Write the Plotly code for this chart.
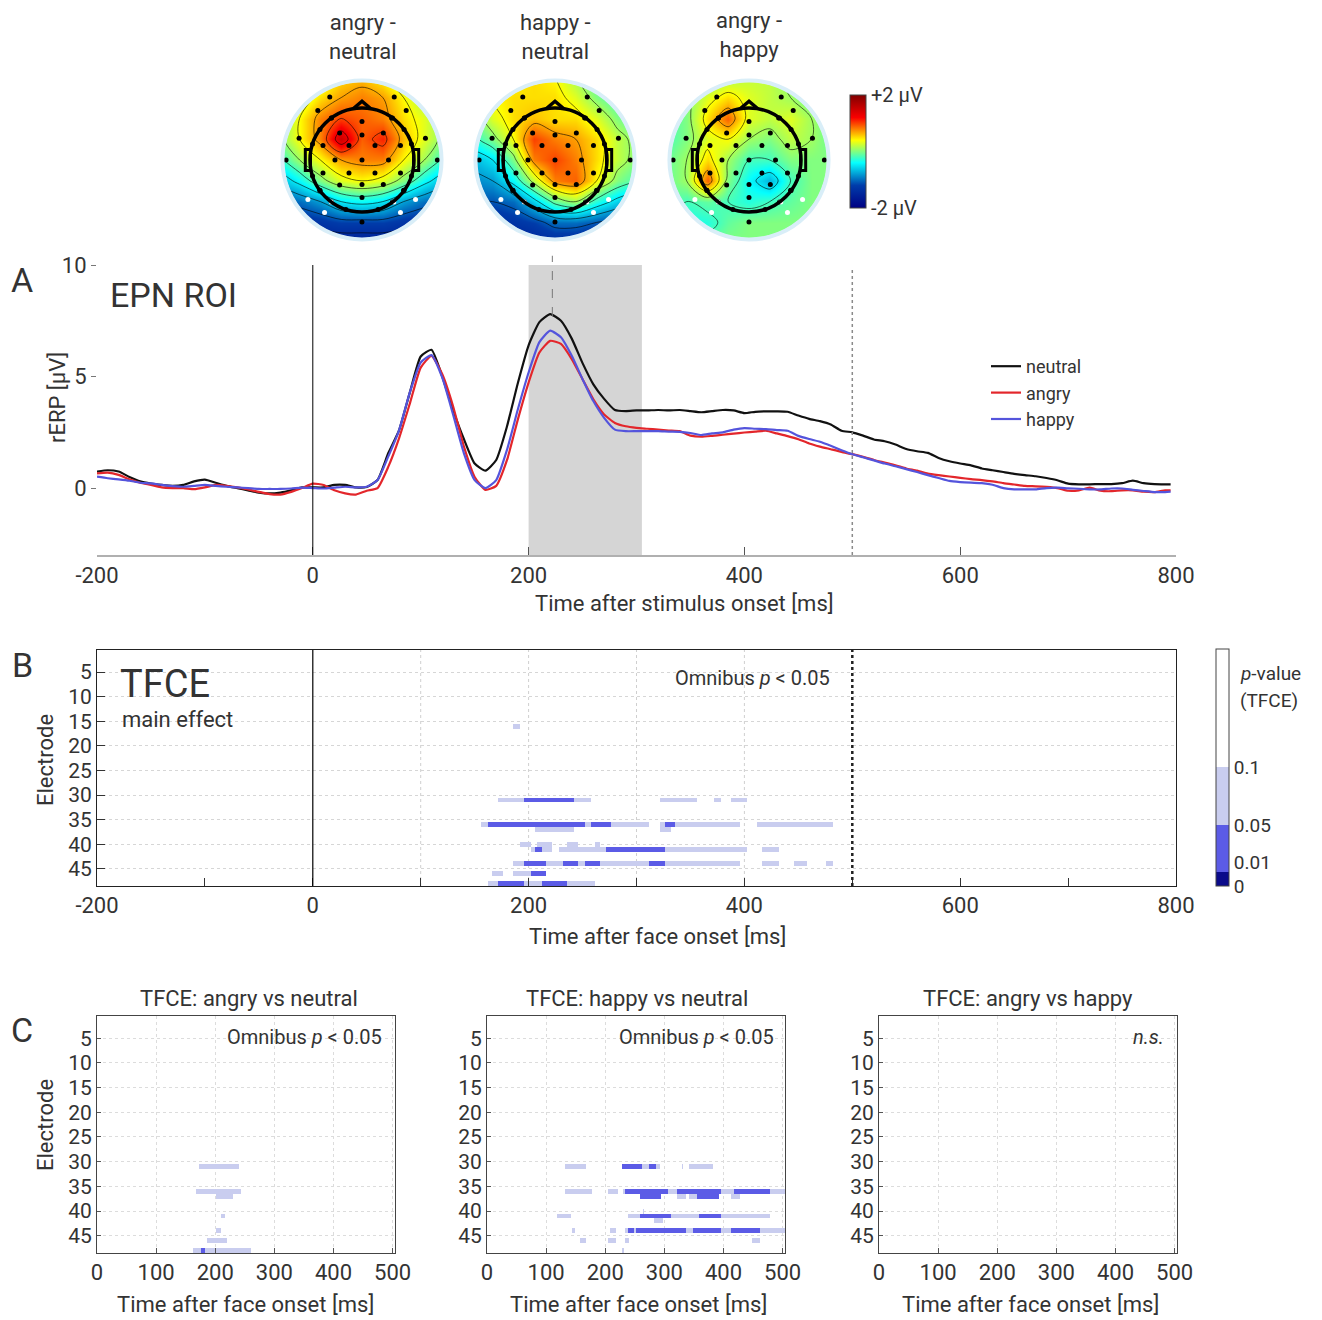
import numpy as np
import plotly.graph_objects as go

W, H = 1322, 1320
def px(x): return x / W
def py(y): return 1 - y / H

FONT = "Roboto"
TXT = "#333333"

# ---------------- Panel A: ERP time courses ----------------
time_ms = list(range(-200, 800, 10)) + [795]
neutral = [0.74, 0.80, 0.74, 0.50, 0.30, 0.20, 0.14, 0.10, 0.14, 0.30,
           0.38, 0.24, 0.10, 0.00, -0.10, -0.20, -0.24, -0.20, -0.10, 0.03,
           0.03, 0.03, 0.14, 0.14, 0.03, 0.05, 0.36, 1.57, 2.60, 4.30,
           5.90, 6.20, 5.00, 3.50, 2.20, 1.10, 0.78, 1.26, 2.77, 4.70,
           6.40, 7.44, 7.80, 7.50, 6.70, 5.60, 4.65, 4.00, 3.50, 3.45,
           3.48, 3.48, 3.50, 3.48, 3.50, 3.45, 3.40, 3.45, 3.50, 3.48,
           3.36, 3.42, 3.44, 3.44, 3.42, 3.25, 3.10, 3.00, 2.85, 2.57,
           2.50, 2.35, 2.18, 2.10, 1.95, 1.75, 1.65, 1.58, 1.35, 1.20,
           1.10, 1.02, 0.88, 0.80, 0.72, 0.64, 0.58, 0.53, 0.45, 0.35,
           0.20, 0.17, 0.17, 0.18, 0.18, 0.22, 0.33, 0.22, 0.18, 0.17, 0.17]
angry = [0.66, 0.69, 0.59, 0.39, 0.24, 0.14, 0.03, 0.00, 0.00, -0.05,
         0.03, 0.14, 0.10, 0.03, -0.06, -0.17, -0.27, -0.29, -0.17, 0.00,
         0.20, 0.14, -0.10, -0.24, -0.29, -0.12, 0.00, 0.96, 2.24, 3.80,
         5.40, 5.93, 5.10, 3.67, 1.87, 0.50, -0.08, 0.10, 1.26, 3.07,
         4.73, 6.08, 6.60, 6.46, 5.78, 4.88, 3.98, 3.30, 2.92, 2.77,
         2.70, 2.66, 2.62, 2.58, 2.55, 2.35, 2.30, 2.34, 2.39, 2.44,
         2.49, 2.53, 2.57, 2.45, 2.33, 2.19, 2.00, 1.86, 1.74, 1.62,
         1.52, 1.40, 1.26, 1.14, 1.02, 0.88, 0.78, 0.65, 0.58, 0.52,
         0.46, 0.40, 0.36, 0.30, 0.22, 0.16, 0.10, 0.08, 0.05, 0.00,
         -0.12, -0.10, 0.02, -0.12, -0.14, -0.10, -0.10, -0.16, -0.18, -0.10, -0.10]
happy = [0.51, 0.44, 0.39, 0.33, 0.24, 0.21, 0.14, 0.09, 0.06, 0.10,
         0.14, 0.10, 0.06, 0.03, 0.00, -0.04, -0.04, -0.04, -0.02, 0.02,
         0.00, -0.02, 0.02, 0.06, 0.03, 0.06, 0.36, 1.42, 2.60, 4.30,
         5.63, 5.96, 4.95, 3.30, 1.57, 0.36, 0.00, 0.36, 1.72, 3.52,
         5.18, 6.54, 7.06, 6.76, 5.93, 4.88, 3.90, 3.15, 2.62, 2.55,
         2.55, 2.55, 2.55, 2.53, 2.52, 2.47, 2.38, 2.45, 2.50, 2.62,
         2.69, 2.66, 2.64, 2.60, 2.57, 2.34, 2.20, 2.08, 1.90, 1.70,
         1.52, 1.38, 1.24, 1.10, 0.98, 0.85, 0.72, 0.58, 0.45, 0.32,
         0.27, 0.24, 0.22, 0.15, 0.00, -0.06, -0.06, -0.06, 0.00, 0.02,
         -0.01, -0.03, -0.06, -0.06, -0.02, -0.02, -0.08, -0.13, -0.18, -0.18, -0.16]
condition_names = ["neutral", "angry", "happy"]
condition_colors = ["#111111", "#e3262b", "#5454dc"]
epn_window = [200, 305]
peak_latency = 222
analysis_end = 500
erp_ticks = [-200, 0, 200, 400, 600, 800]

# ---------------- Panel B / C: TFCE clusters ----------------
# (electrode, start ms, end ms, level)  level: 'l' p<0.1, 'm' p<0.05, 'd' p<0.01
main_effect = [
    (16, 186, 192, 'l'),
    (31, 172, 197, 'l'), (31, 197, 242, 'm'), (31, 242, 258, 'l'), (31, 323, 357, 'l'),
    (31, 373, 378, 'l'), (31, 388, 403, 'l'),
    (36, 157, 162, 'l'), (36, 162, 252, 'm'), (36, 252, 258, 'l'), (36, 258, 277, 'm'),
    (36, 277, 312, 'l'), (36, 323, 327, 'l'), (36, 327, 337, 'm'), (36, 337, 397, 'l'),
    (36, 412, 482, 'l'),
    (37, 207, 242, 'l'), (37, 323, 332, 'l'),
    (40, 192, 202, 'l'), (40, 208, 223, 'l'), (40, 237, 247, 'l'), (40, 262, 267, 'l'),
    (41, 202, 207, 'l'), (41, 207, 212, 'm'), (41, 212, 223, 'l'), (41, 228, 272, 'l'),
    (41, 272, 327, 'm'), (41, 327, 402, 'l'), (41, 417, 433, 'l'),
    (44, 187, 197, 'l'), (44, 197, 217, 'm'), (44, 217, 232, 'l'), (44, 232, 247, 'm'),
    (44, 247, 252, 'l'), (44, 252, 267, 'm'), (44, 267, 312, 'l'), (44, 312, 327, 'm'),
    (44, 327, 397, 'l'), (44, 417, 433, 'l'), (44, 447, 458, 'l'), (44, 477, 482, 'l'),
    (46, 167, 177, 'l'), (46, 187, 202, 'l'), (46, 202, 217, 'm'),
    (48, 162, 173, 'l'), (48, 173, 197, 'm'), (48, 197, 212, 'l'), (48, 212, 237, 'm'),
    (48, 237, 262, 'l'),
]
angry_vs_neutral = [
    (31, 172, 241, 'l'), (36, 168, 245, 'l'), (37, 203, 231, 'l'), (41, 211, 217, 'l'),
    (44, 203, 211, 'l'), (46, 187, 221, 'l'), (48, 162, 261, 'l'), (48, 177, 182, 'm'),
]
happy_vs_neutral = [
    (31, 133, 168, 'l'), (31, 228, 262, 'm'), (31, 262, 274, 'l'), (31, 274, 287, 'm'),
    (31, 287, 293, 'l'), (31, 330, 332, 'l'), (31, 342, 383, 'l'),
    (36, 133, 178, 'l'), (36, 204, 222, 'l'), (36, 231, 234, 'l'), (36, 234, 307, 'm'),
    (36, 307, 323, 'l'), (36, 323, 397, 'm'), (36, 397, 418, 'l'), (36, 418, 478, 'm'),
    (36, 478, 504, 'l'),
    (37, 258, 295, 'm'), (37, 323, 337, 'l'), (37, 342, 357, 'l'), (37, 357, 393, 'm'),
    (37, 413, 428, 'l'),
    (40, 264, 266, 'l'),
    (41, 119, 142, 'l'), (41, 238, 258, 'l'), (41, 258, 313, 'm'), (41, 313, 358, 'l'),
    (41, 358, 397, 'm'), (41, 397, 478, 'l'),
    (42, 282, 298, 'l'),
    (44, 145, 148, 'l'), (44, 208, 218, 'l'), (44, 234, 238, 'l'), (44, 238, 248, 'm'),
    (44, 248, 252, 'l'), (44, 252, 337, 'm'), (44, 337, 348, 'l'), (44, 348, 397, 'm'),
    (44, 397, 413, 'l'), (44, 413, 462, 'm'), (44, 462, 504, 'l'),
    (46, 158, 168, 'l'), (46, 204, 218, 'l'), (46, 234, 241, 'l'), (46, 449, 462, 'l'),
    (48, 229, 232, 'l'),
]
angry_vs_happy = []
n_electrodes = 48
electrode_ticks = [5, 10, 15, 20, 25, 30, 35, 40, 45]
p_ticks = ["0", "0.01", "0.05", "0.1"]

# ---------------- Topographies ----------------
topo_grid = [-1.6, -1.2, -0.8, -0.4, 0.0, 0.4, 0.8, 1.2, 1.6]
# rows listed from front (top) to back (bottom)
topo_angry_neutral = [
    [-0.3, -0.1, 0.2, 0.5, 0.6, 0.4, 0.1, -0.2, -0.4],
    [-0.2, 0.2, 0.5, 0.7, 0.8, 0.7, 0.4, 0.1, -0.3],
    [0.0, 0.4, 0.8, 1.0, 0.9, 0.8, 0.5, 0.3, 0.0],
    [0.0, 0.4, 0.8, 1.5, 0.9, 1.1, 0.6, 0.3, 0.0],
    [-0.3, 0.1, 0.4, 0.7, 0.8, 0.8, 0.4, 0.1, -0.3],
    [-0.7, -0.4, 0.0, 0.3, 0.4, 0.3, 0.0, -0.4, -0.7],
    [-1.1, -1.0, -0.8, -0.5, -0.4, -0.5, -0.8, -1.0, -1.1],
    [-1.4, -1.35, -1.3, -1.2, -1.2, -1.2, -1.3, -1.35, -1.4],
    [-1.6, -1.6, -1.6, -1.6, -1.6, -1.6, -1.6, -1.6, -1.6],
]
topo_happy_neutral = [
    [0.0, 0.2, 0.4, 0.5, 0.4, 0.1, -0.2, -0.4, -0.5],
    [0.1, 0.4, 0.5, 0.5, 0.5, 0.3, 0.0, -0.2, -0.4],
    [-0.1, 0.3, 0.5, 0.6, 0.5, 0.5, 0.3, 0.0, -0.2],
    [-0.3, 0.0, 0.4, 1.0, 0.8, 0.7, 0.5, 0.2, 0.0],
    [-0.7, -0.5, 0.0, 0.8, 1.0, 0.8, 0.5, 0.2, 0.0],
    [-0.9, -0.8, -0.4, 0.2, 0.8, 0.9, 0.4, 0.0, -0.2],
    [-1.1, -1.1, -1.0, -0.6, -0.1, 0.1, -0.3, -0.6, -0.8],
    [-1.4, -1.4, -1.3, -1.2, -1.0, -1.0, -1.1, -1.2, -1.3],
    [-1.6, -1.6, -1.6, -1.5, -1.4, -1.4, -1.5, -1.6, -1.6],
]
topo_angry_happy = [
    [-0.2, -0.1, 0.0, 0.1, 0.2, 0.2, 0.0, -0.1, -0.2],
    [-0.2, 0.0, 0.3, 0.5, 0.3, 0.2, 0.1, -0.1, -0.2],
    [-0.2, 0.0, 0.5, 0.9, 0.3, 0.2, 0.3, 0.1, -0.1],
    [-0.2, 0.0, 0.3, 0.4, 0.1, 0.0, 0.2, 0.1, -0.1],
    [-0.1, 0.1, 0.5, 0.1, -0.2, -0.2, 0.0, 0.0, 0.0],
    [-0.1, 0.1, 0.9, 0.0, -0.4, -0.7, -0.2, 0.0, 0.0],
    [-0.1, -0.2, -0.1, -0.2, -0.3, -0.2, -0.1, 0.0, 0.0],
    [-0.1, -0.35, -0.3, -0.1, 0.0, 0.0, 0.0, 0.0, 0.0],
    [-0.1, -0.1, -0.1, 0.0, 0.0, 0.0, 0.0, 0.0, 0.0],
]
topo_titles = ["angry -<br>neutral", "happy -<br>neutral", "angry -<br>happy"]
elec_x = [-0.62, 0.62, -0.85, 0.85, 0.0, -0.59, 0.57, -0.43, 0.0, 0.41, -1.21, 1.22,
          -0.75, -0.25, 0.25, 0.74, -1.46, 1.45, -0.52, 0.0, 0.51, -0.75, -0.25, 0.25,
          0.74, -0.43, 0.0, 0.41, -0.81, 0.80, 0.0, 0.0]
elec_y = [1.21, 1.21, 0.95, 0.95, 0.74, 0.81, 0.81, 0.52, 0.48, 0.52, 0.42, 0.42,
          0.28, 0.28, 0.28, 0.28, 0.0, 0.0, 0.0, 0.0, 0.0, -0.25, -0.25, -0.25,
          -0.25, -0.48, -0.47, -0.47, -0.58, -0.58, -0.72, -1.19]
roi_x = [-1.04, -0.59, 0.61, 1.03, -0.72, 0.74]
roi_y = [-0.76, -0.81, -0.81, -0.76, -1.01, -1.01]
rim_angles = [18, 36, 54, 126, 144, 162, 198, 216, 234, 252, 288, 306, 324, 342]

# ======================================================================
fig = go.Figure()

for name, col, vals in zip(condition_names, condition_colors, [neutral, angry, happy]):
    fig.add_trace(go.Scatter(x=time_ms, y=vals, mode="lines", name=name,
                             line=dict(color=col, width=2.2, shape="spline", smoothing=0.5),
                             xaxis="x", yaxis="y", hoverinfo="skip"))

LEVEL_Z = {'d': 7, 'm': 37, 'l': 90}
def build_z(segments, t_centers):
    z = np.full((n_electrodes, len(t_centers)), np.nan)
    for el, t0, t1, lev in segments:
        sel = (t_centers >= t0) & (t_centers < t1)
        z[el - 1, sel] = LEVEL_Z[lev]
    return z

rows = np.arange(1, n_electrodes + 1)
tB = np.arange(-199, 800, 2)
tC = np.arange(1, 504, 2)
fig.add_trace(go.Heatmap(x=tB, y=rows, z=build_z(main_effect, tB), coloraxis="coloraxis",
                         xaxis="x2", yaxis="y2", hoverinfo="skip", showlegend=False))
for i, segs in enumerate([angry_vs_neutral, happy_vs_neutral, angry_vs_happy]):
    fig.add_trace(go.Heatmap(x=tC, y=rows, z=build_z(segs, tC), coloraxis="coloraxis",
                             xaxis=f"x{3+i}", yaxis=f"y{3+i}", hoverinfo="skip", showlegend=False))

rim_x = [float(np.cos(np.radians(a))) for a in rim_angles]
rim_y = [float(np.sin(np.radians(a))) for a in rim_angles]
for i, zt in enumerate([topo_angry_neutral, topo_happy_neutral, topo_angry_happy]):
    xa, ya = f"x{6+i}", f"y{6+i}"
    fig.add_trace(go.Contour(x=topo_grid, y=topo_grid, z=zt[::-1], coloraxis="coloraxis2",
                             contours=dict(coloring="heatmap", start=-2, end=2, size=0.3, showlines=True),
                             line=dict(color="black", width=0.6), xaxis=xa, yaxis=ya,
                             hoverinfo="skip", showlegend=False))
    fig.add_trace(go.Scatter(x=elec_x + rim_x, y=elec_y + rim_y, mode="markers",
                             marker=dict(color="black", size=5), xaxis=xa, yaxis=ya,
                             showlegend=False, hoverinfo="skip"))
    fig.add_trace(go.Scatter(x=roi_x, y=roi_y, mode="markers",
                             marker=dict(color="white", size=5), xaxis=xa, yaxis=ya,
                             showlegend=False, hoverinfo="skip"))

# ---------------- Layout ----------------
tickf = dict(family=FONT, size=22, color=TXT)
layout = dict(
    width=W, height=H, margin=dict(l=0, r=0, t=0, b=0, autoexpand=False),
    paper_bgcolor="white", plot_bgcolor="white",
    font=dict(family=FONT, color=TXT, size=20),
    showlegend=True,
    legend=dict(x=px(986), y=py(348), xanchor="left", yanchor="top", bgcolor="rgba(0,0,0,0)",
                font=dict(family=FONT, size=18, color=TXT), tracegroupgap=0,
                borderwidth=0),
    xaxis=dict(domain=[px(97), px(1176)], range=[-200, 800], anchor="y", automargin=False,
               tickvals=erp_ticks, ticktext=[str(v) for v in erp_ticks],
               ticks="inside", ticklen=8, tickcolor="#555",
               showline=True, linecolor="#b0b0b0", linewidth=1.5, showgrid=False, zeroline=False,
               tickfont=tickf),
    yaxis=dict(domain=[py(555), py(265)], range=[-3, 10], anchor="x", automargin=False,
               tickvals=[0, 5, 10], ticks="outside", ticklen=5, tickcolor="#777",
               showline=False, showgrid=False, zeroline=False, tickfont=tickf),
    xaxis2=dict(domain=[px(97), px(1176)], range=[-200, 800], anchor="y2", automargin=False,
                tickvals=list(range(-200, 801, 100)),
                ticktext=[str(v) if v % 200 == 0 else "" for v in range(-200, 801, 100)],
                ticks="inside", ticklen=8, tickcolor="#333", showline=True, mirror=True,
                linecolor="#222", linewidth=1, showgrid=False, zeroline=False, tickfont=tickf),
    yaxis2=dict(domain=[py(886), py(650)], range=[48.5, 0.5], anchor="x2", automargin=False,
                tickvals=electrode_ticks, ticks="inside", ticklen=8, tickcolor="#333",
                showline=True, mirror=True, linecolor="#222", linewidth=1,
                showgrid=True, gridcolor="#d6d6d6", griddash="dot", gridwidth=1, zeroline=False,
                tickfont=dict(family=FONT, size=21, color=TXT)),
    coloraxis=dict(cmin=0, cmax=237,
                   colorscale=[[0, "#0b0b8a"], [14/237, "#0b0b8a"], [14/237, "#5b5be6"],
                               [61/237, "#5b5be6"], [61/237, "#c9cdef"], [119/237, "#c9cdef"],
                               [119/237, "#ffffff"], [1, "#ffffff"]],
                   colorbar=dict(x=px(1216), xanchor="left", y=py(649), yanchor="top",
                                 len=237/H, lenmode="fraction", thickness=13, xpad=0, ypad=0,
                                 outlinewidth=1, outlinecolor="#444",
                                 tickvals=[0, 24, 61, 119], ticktext=p_ticks, ticks="",
                                 tickfont=dict(family=FONT, size=19, color=TXT))),
    coloraxis2=dict(cmin=-2, cmax=2, colorscale="Jet",
                    colorbar=dict(x=px(850), xanchor="left", y=py(95), yanchor="top",
                                  len=113/H, lenmode="fraction", thickness=16, xpad=0, ypad=0,
                                  outlinewidth=1, outlinecolor="#444",
                                  tickvals=[2, -2], ticktext=["+2 µV", "-2 µV"], ticks="",
                                  tickfont=dict(family=FONT, size=20, color=TXT))),
)
c_left = [97, 487, 879]
c_ticks = [0, 100, 200, 300, 400, 500]
for i in range(3):
    layout[f"xaxis{3+i}"] = dict(domain=[px(c_left[i]), px(c_left[i] + 298)], range=[0, 504],
                                 anchor=f"y{3+i}", automargin=False, tickvals=c_ticks,
                                 ticktext=[str(v) for v in c_ticks],
                                 ticks="inside", ticklen=5, tickcolor="#555", showline=True, mirror=True,
                                 linecolor="#444", linewidth=1, showgrid=True, gridcolor="#dcdcdc",
                                 griddash="dot", zeroline=False, tickfont=tickf)
    layout[f"yaxis{3+i}"] = dict(domain=[py(1253), py(1016)], range=[48.5, 0.5], anchor=f"x{3+i}",
                                 automargin=False,
                                 tickvals=electrode_ticks, ticks="inside", ticklen=4, tickcolor="#555",
                                 showline=True, mirror=True, linecolor="#444", linewidth=1,
                                 showgrid=True, gridcolor="#dcdcdc", griddash="dot", zeroline=False,
                                 tickfont=dict(family=FONT, size=21, color=TXT))
topo_cx = [362, 555, 749]
R = 1.85
half = R * 52
for i in range(3):
    layout[f"xaxis{6+i}"] = dict(domain=[px(topo_cx[i] - half), px(topo_cx[i] + half)],
                                 range=[-R, R], visible=False, anchor=f"y{6+i}", automargin=False)
    layout[f"yaxis{6+i}"] = dict(domain=[py(160 + half), py(160 - half)],
                                 range=[-R, R], visible=False, anchor=f"x{6+i}", automargin=False)
fig.update_layout(**layout)

# ---------------- Shapes ----------------
shapes = []
shapes.append(dict(type="rect", xref="x", yref="y domain", x0=epn_window[0], x1=epn_window[1],
                   y0=0, y1=1, fillcolor="#d5d5d5", line=dict(width=0), layer="below"))
shapes.append(dict(type="line", xref="x", yref="y domain", x0=0, x1=0, y0=0, y1=1,
                   line=dict(color="black", width=1)))
shapes.append(dict(type="line", xref="x", yref="y domain", x0=analysis_end, x1=analysis_end,
                   y0=0, y1=0.99, line=dict(color="#8a8a8a", width=1.5, dash="dot")))
shapes.append(dict(type="line", xref="x", yref="paper", x0=peak_latency, x1=peak_latency,
                   y0=py(316), y1=py(250), line=dict(color="#777", width=1, dash="dash")))
for g in [100, 200, 300, 400]:
    shapes.append(dict(type="line", xref="x2", yref="y2 domain", x0=g, x1=g, y0=0, y1=1,
                       line=dict(color="#cfcfcf", width=1, dash="dot"), layer="below"))
shapes.append(dict(type="line", xref="x2", yref="y2 domain", x0=0, x1=0, y0=0, y1=1,
                   line=dict(color="black", width=1.2)))
shapes.append(dict(type="line", xref="x2", yref="y2 domain", x0=analysis_end, x1=analysis_end,
                   y0=0, y1=1, line=dict(color="#222", width=2.5, dash="dot")))

ang = np.linspace(0, 2 * np.pi, 121)
circ = " L ".join(f"{1.5*np.cos(a):.4f} {1.5*np.sin(a):.4f}" for a in ang)
mask_path = "M -1.84 -1.84 L 1.84 -1.84 L 1.84 1.84 L -1.84 1.84 Z M " + circ + " Z"
for i in range(3):
    xr, yr = f"x{6+i}", f"y{6+i}"
    shapes.append(dict(type="path", xref=xr, yref=yr, path=mask_path, fillcolor="white",
                       line=dict(width=0), layer="above"))
    shapes.append(dict(type="circle", xref=xr, yref=yr, x0=-1.53, x1=1.53, y0=-1.53, y1=1.53,
                       line=dict(color="#d9eef8", width=4), layer="above"))
    shapes.append(dict(type="circle", xref=xr, yref=yr, x0=-1, x1=1, y0=-1, y1=1,
                       line=dict(color="black", width=3.5), layer="above"))
    shapes.append(dict(type="path", xref=xr, yref=yr, path="M -0.17 0.985 L 0 1.13 L 0.17 0.985",
                       line=dict(color="black", width=3.5), layer="above"))
    for s in (-1, 1):
        shapes.append(dict(type="rect", xref=xr, yref=yr, x0=s*0.99, x1=s*1.09, y0=-0.2, y1=0.2,
                           line=dict(color="black", width=3), layer="above"))
fig.update_layout(shapes=shapes)

# ---------------- Annotations ----------------
def ann(text, x, y, size, xanchor="center", angle=0, yanchor="middle"):
    return dict(text=text, x=px(x), y=py(y), xref="paper", yref="paper", showarrow=False,
                font=dict(family=FONT, size=size, color=TXT), xanchor=xanchor, yanchor=yanchor,
                textangle=angle)

annots = [
    ann("A", 22, 280, 34), ann("B", 22, 665, 34), ann("C", 22, 1030, 34),
    ann("EPN ROI", 108, 295, 34, xanchor="left"),
    ann("rERP [µV]", 57, 398, 22, angle=-90),
    ann("Time after stimulus onset [ms]", 685, 603, 22),
    ann("TFCE", 118, 684, 38, xanchor="left"),
    ann("main effect", 120, 719, 22, xanchor="left"),
    ann("Omnibus <i>p</i> &lt; 0.05", 752, 678, 20),
    ann("Electrode", 45, 760, 22, angle=-90),
    ann("Time after face onset [ms]", 657, 936, 22),
    ann("<i>p</i>-value", 1238, 673, 19, xanchor="left"),
    ann("(TFCE)", 1238, 700, 19, xanchor="left"),
    ann("TFCE: angry vs neutral", 249, 998, 22),
    ann("TFCE: happy vs neutral", 637, 998, 22),
    ann("TFCE: angry vs happy", 1028, 998, 22),
    ann("Omnibus <i>p</i> &lt; 0.05", 384, 1037, 20, xanchor="right"),
    ann("Omnibus <i>p</i> &lt; 0.05", 776, 1037, 20, xanchor="right"),
    ann("<i>n.s.</i>", 1166, 1037, 20, xanchor="right"),
    ann("Electrode", 45, 1125, 22, angle=-90),
    ann("Time after face onset [ms]", 246, 1304, 22),
    ann("Time after face onset [ms]", 638, 1304, 22),
    ann("Time after face onset [ms]", 1030, 1304, 22),
]
for i, t in enumerate(topo_titles):
    annots.append(ann(t, topo_cx[i], 37 if i < 2 else 35, 22))
fig.update_layout(annotations=annots)

fig.write_html("out.html", config={"displayModeBar": False},
               post_script="document.body.style.margin='0px';")
